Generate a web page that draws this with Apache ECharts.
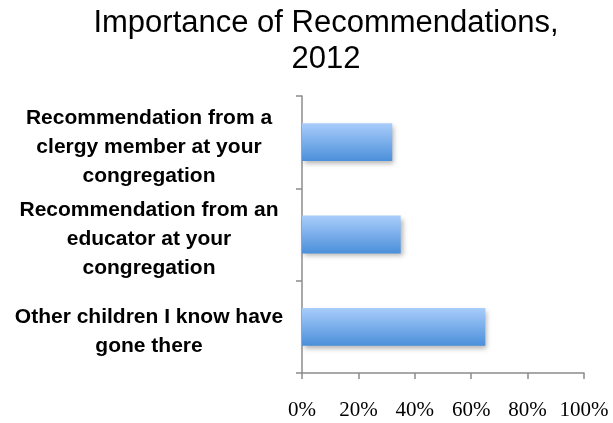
<!DOCTYPE html>
<html>
<head>
<meta charset="utf-8">
<script src="https://cdn.jsdelivr.net/npm/echarts@6/dist/echarts.min.js"></script>
<style>
  html, body { margin: 0; padding: 0; background: #fff; }
  #chart { width: 613px; height: 423px; }
</style>
</head>
<body>
<div id="chart"></div>
<script>
// categories top to bottom
var categories = [
  'Recommendation from a\nclergy member at your\ncongregation',
  'Recommendation from an\neducator at your\ncongregation',
  'Other children I know have\ngone there'
];
var values = [32, 35, 65];
var xTicks = [0, 20, 40, 60, 80, 100];

var myChart = echarts.init(document.getElementById('chart'));

var option = {
  animation: false,
  title: {
    text: 'Importance of Recommendations,\n2012',
    left: 321,
    textAlign: 'center',
    top: 0,
    textStyle: {
      fontFamily: 'Liberation Sans',
      fontWeight: 'normal',
      fontSize: 31,
      lineHeight: 36,
      color: '#000'
    }
  },
  grid: {
    left: 302,
    right: 29,
    top: 96,
    bottom: 50
  },
  xAxis: {
    type: 'value',
    min: xTicks[0],
    max: xTicks[xTicks.length - 1],
    interval: 20,
    splitLine: { show: false },
    axisLine: { show: true, lineStyle: { color: '#8c8c8c', width: 1.5 } },
    axisTick: { show: true, length: 6, lineStyle: { color: '#8c8c8c', width: 1.5 } },
    axisLabel: {
      margin: 27,
      fontFamily: 'Liberation Serif',
      fontSize: 21,
      color: '#000',
      formatter: '{value}%'
    }
  },
  yAxis: {
    type: 'category',
    data: categories,
    inverse: true,
    axisLine: { show: true, lineStyle: { color: '#8c8c8c', width: 1.5 } },
    axisTick: { show: true, length: 6, lineStyle: { color: '#8c8c8c', width: 1.5 } },
    axisLabel: {
      interval: 0,
      margin: 153,
      align: 'center',
      fontFamily: 'Liberation Sans',
      fontWeight: 'bold',
      fontSize: 21,
      lineHeight: 29,
      color: '#000',
      // empty spacer line on top nudges the centred block a few px down
      formatter: function (v) { return '{s|}\n' + v; },
      rich: {
        s: { height: 10, lineHeight: 10, fontSize: 1 }
      }
    }
  },
  series: [
    {
      type: 'bar',
      data: values,
      barCategoryGap: '59%',
      itemStyle: {
        color: new echarts.graphic.LinearGradient(0, 0, 0, 1, [
          { offset: 0, color: '#a9cdfb' },
          { offset: 1, color: '#4b8fda' }
        ]),
        shadowColor: 'rgba(0,0,0,0.3)',
        shadowBlur: 5,
        shadowOffsetX: 2,
        shadowOffsetY: 3
      }
    }
  ]
};

myChart.setOption(option);
window.addEventListener('resize', function () {
  myChart.resize();
});
</script>
</body>
</html>
